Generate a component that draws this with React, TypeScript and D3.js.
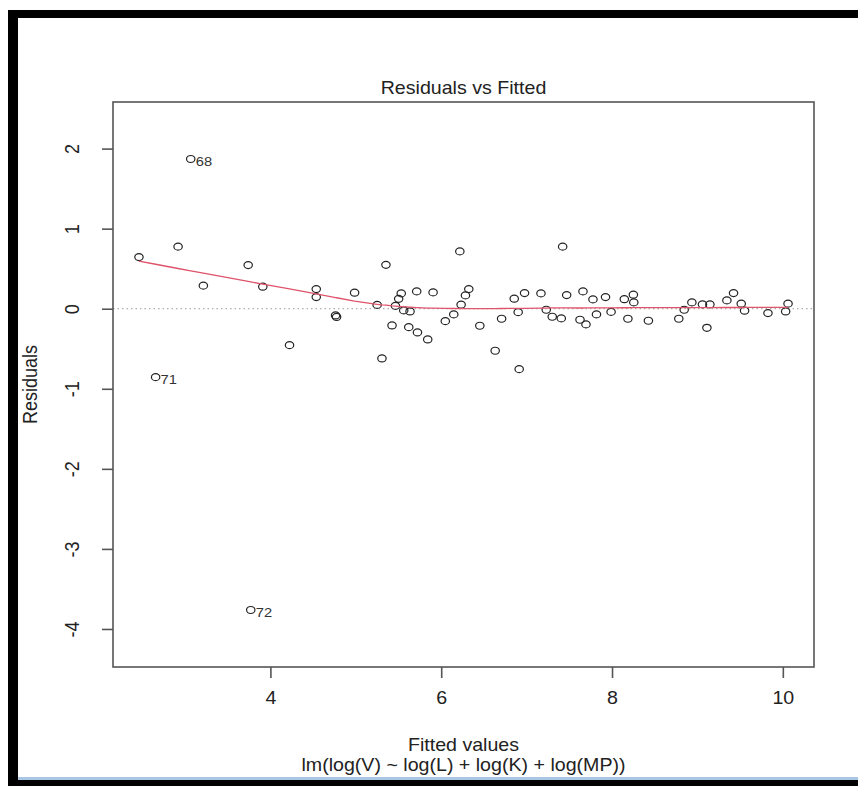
import * as d3 from 'd3';
import { useEffect, useRef } from 'react';

// fitted values and residuals, observation order (ids 68, 71, 72 are the outliers)
const fittedValues = [
  2.461, 2.919, 3.215, 3.74, 3.911, 4.224, 4.537, 4.537, 4.763, 4.775,
  4.986, 5.25, 5.306, 5.353, 5.424, 5.464, 5.502, 5.532, 5.561, 5.635,
  5.62, 5.713, 5.722, 5.842, 5.905, 6.048, 6.147, 6.218, 6.233, 6.284,
  6.323, 6.452, 6.632, 6.707, 6.855, 6.901, 6.913, 6.976, 7.168, 7.23,
  7.3, 7.406, 7.422, 7.469, 7.625, 7.66, 7.695, 7.777, 7.818, 7.924,
  7.989, 8.144, 8.186, 8.25, 8.255, 8.426, 8.782, 8.845, 8.935, 9.059,
  9.111, 9.146, 9.345, 9.423, 9.513, 9.552, 9.826, 3.067, 10.033, 10.061,
  2.656, 3.77,
];
const residualValues = [
  0.645, 0.775, 0.288, 0.545, 0.275, -0.455, 0.245, 0.145, -0.084, -0.103,
  0.2, 0.048, -0.621, 0.548, -0.209, 0.035, 0.123, 0.191, -0.021, -0.034,
  -0.23, 0.216, -0.296, -0.384, 0.204, -0.155, -0.071, 0.716, 0.05, 0.166,
  0.245, -0.213, -0.525, -0.125, 0.125, -0.043, -0.755, 0.195, 0.191, -0.013,
  -0.1, -0.121, 0.775, 0.17, -0.138, 0.216, -0.196, 0.116, -0.071, 0.145,
  -0.04, 0.119, -0.125, 0.175, 0.079, -0.15, -0.125, -0.013, 0.079, 0.054,
  -0.238, 0.054, 0.104, 0.195, 0.063, -0.025, -0.055, 1.87, -0.034, 0.063,
  -0.855, -3.763,
];
const xTicks = [4, 6, 8, 10];
const yTicks = [-4, -3, -2, -1, 0, 1, 2];
const title = 'Residuals vs Fitted';
const xTitle = 'Fitted values';
const subTitle = 'lm(log(V) ~ log(L) + log(K) + log(MP))';
const yTitle = 'Residuals';
const idCount = 3;

const W = 858;
const H = 786;
const box = { left: 113, right: 814, top: 102, bottom: 667 };
const font = '"Liberation Sans", Arial, sans-serif';
const stretch = 'scale(1.09,1)'; // the screenshot is a little wider than tall

// R's lowess (Cleveland), f = 2/3, 3 robustness iterations
function lowess(xs: number[], ys: number[], f = 2 / 3, iter = 3) {
  const order = d3.range(xs.length).sort((a, b) => xs[a] - xs[b]);
  const x = order.map(i => xs[i]);
  const y = order.map(i => ys[i]);
  const n = x.length;
  const ns = Math.max(2, Math.min(n, Math.floor(f * n + 1e-7)));
  const span = x[n - 1] - x[0];
  let rw = new Array(n).fill(1);
  const fit = new Array(n).fill(0);
  for (let it = 0; it <= iter; it++) {
    let nleft = 0;
    let nright = ns - 1;
    for (let i = 0; i < n; i++) {
      while (nright < n - 1 && x[i] - x[nleft] > x[nright + 1] - x[i]) {
        nleft++;
        nright++;
      }
      const h = Math.max(x[i] - x[nleft], x[nright] - x[i]);
      const w = new Array(n).fill(0);
      let sw = 0;
      for (let j = 0; j < n; j++) {
        const r = Math.abs(x[j] - x[i]);
        let wj = 0;
        if (r <= 0.999 * h) wj = r <= 0.001 * h ? 1 : Math.pow(1 - Math.pow(r / h, 3), 3);
        wj *= rw[j];
        w[j] = wj;
        sw += wj;
      }
      if (sw <= 0) {
        fit[i] = y[i];
        continue;
      }
      for (let j = 0; j < n; j++) w[j] /= sw;
      const a = d3.sum(w, (wj, j) => wj * x[j]);
      const b = d3.sum(w, (wj, j) => wj * (x[j] - a) ** 2);
      if (Math.sqrt(b) > 0.001 * span) {
        for (let j = 0; j < n; j++) w[j] *= 1 + ((x[i] - a) * (x[j] - a)) / b;
      }
      fit[i] = d3.sum(w, (wj, j) => wj * y[j]);
    }
    if (it === iter) break;
    const res = y.map((v, i) => Math.abs(v - fit[i]));
    const cmad = 6 * (d3.median(res) ?? 0);
    if (cmad <= 0) break;
    rw = res.map(r => (r < 0.001 * cmad ? 1 : r > 0.999 * cmad ? 0 : (1 - (r / cmad) ** 2) ** 2));
  }
  return x.map((xi, i) => [xi, fit[i]] as [number, number]);
}

// extendrange like R
const extend = (lo: number, hi: number, f: number) => [lo - f * (hi - lo), hi + f * (hi - lo)];

function App() {
  const svgRef = useRef<SVGSVGElement>(null);

  useEffect(() => {
    const svg = d3.select(svgRef.current);
    svg.selectAll('*').remove();

    const points = fittedValues.map((x, i) => ({ x, y: residualValues[i], id: i + 1 }));
    const [xMin, xMax] = d3.extent(fittedValues) as [number, number];
    const [rMin, rMax] = d3.extent(residualValues) as [number, number];
    const yLim = extend(rMin, rMax, 0.08);

    const xScale = d3
      .scaleLinear()
      .domain(extend(xMin, xMax, 0.04))
      .range([box.left, box.right]);
    const yScale = d3
      .scaleLinear()
      .domain(extend(yLim[0], yLim[1], 0.04))
      .range([box.bottom, box.top]);

    // outer frame of the screenshot
    svg.append('rect').attr('width', W).attr('height', H).attr('fill', '#fff');
    svg.append('rect').attr('x', 8).attr('y', 10).attr('width', 10).attr('height', H - 10).attr('fill', '#000');
    svg.append('rect').attr('x', 8).attr('y', 10).attr('width', W - 8).attr('height', 8).attr('fill', '#000');
    svg.append('rect').attr('x', 8).attr('y', 780).attr('width', W - 8).attr('height', 6).attr('fill', '#000');
    svg.append('rect').attr('x', 18).attr('y', 777).attr('width', W - 18).attr('height', 3).attr('fill', '#a9c6e4');

    // zero reference
    svg
      .append('line')
      .attr('x1', box.left)
      .attr('x2', box.right)
      .attr('y1', yScale(0))
      .attr('y2', yScale(0))
      .attr('stroke', '#9a9a9a')
      .attr('stroke-width', 1)
      .attr('stroke-dasharray', '1.5,3');

    // points
    svg
      .append('g')
      .selectAll('ellipse')
      .data(points)
      .join('ellipse')
      .attr('cx', d => xScale(d.x))
      .attr('cy', d => yScale(d.y))
      .attr('rx', 4.2)
      .attr('ry', 3.5)
      .attr('fill', 'none')
      .attr('stroke', '#222')
      .attr('stroke-width', 1.2);

    // lowess smooth
    const smooth = lowess(fittedValues, residualValues);
    const line = d3
      .line<[number, number]>()
      .x(d => xScale(d[0]))
      .y(d => yScale(d[1]));
    svg
      .append('path')
      .attr('d', line(smooth))
      .attr('fill', 'none')
      .attr('stroke', '#DF536B')
      .attr('stroke-width', 1.3);

    // label the largest |residuals|
    const labelled = [...points].sort((a, b) => Math.abs(b.y) - Math.abs(a.y)).slice(0, idCount);
    svg
      .append('g')
      .selectAll('text')
      .data(labelled)
      .join('text')
      .attr('transform', d => `translate(${xScale(d.x) + 5},${yScale(d.y) + 7}) ${stretch}`)
      .attr('font-family', font)
      .attr('font-size', 13.5)
      .attr('fill', '#333')
      .text(d => d.id);

    // axes
    const xAxis = d3
      .axisBottom(xScale)
      .tickValues(xTicks)
      .tickFormat(d => String(d))
      .tickSize(11)
      .tickSizeOuter(0);
    const gx = svg.append('g').attr('transform', `translate(0,${box.bottom})`).call(xAxis);
    gx.select('.domain').remove();
    gx.selectAll('line').attr('stroke', '#555').attr('stroke-width', 1.6);
    gx.selectAll('text')
      .attr('y', null)
      .attr('dy', null)
      .attr('transform', `translate(0,37) ${stretch}`)
      .attr('font-family', font)
      .attr('font-size', 18)
      .attr('fill', '#222');

    const yAxis = d3
      .axisLeft(yScale)
      .tickValues(yTicks)
      .tickFormat(d => String(d))
      .tickSize(11)
      .tickSizeOuter(0);
    const gy = svg.append('g').attr('transform', `translate(${box.left},0)`).call(yAxis);
    gy.select('.domain').remove();
    gy.selectAll('line').attr('stroke', '#555').attr('stroke-width', 1.6);
    gy.selectAll('text')
      .attr('x', null)
      .attr('dy', null)
      .attr('text-anchor', 'middle')
      .attr('transform', `translate(-34,0) ${stretch} rotate(-90)`)
      .attr('font-family', font)
      .attr('font-size', 18)
      .attr('fill', '#222');

    // plot box
    svg
      .append('rect')
      .attr('x', box.left)
      .attr('y', box.top)
      .attr('width', box.right - box.left)
      .attr('height', box.bottom - box.top)
      .attr('fill', 'none')
      .attr('stroke', '#555')
      .attr('stroke-width', 1.6);

    // titles
    const txt = (s: string, x: number, y: number, rot = 0) =>
      svg
        .append('text')
        .attr('transform', `translate(${x},${y}) ${stretch} rotate(${rot})`)
        .attr('text-anchor', 'middle')
        .attr('font-family', font)
        .attr('font-size', 18)
        .attr('fill', '#222')
        .text(s);
    const cx = (box.left + box.right) / 2;
    txt(title, cx, 94);
    txt(xTitle, cx, 751);
    txt(subTitle, cx, 771);
    txt(yTitle, 37, (box.top + box.bottom) / 2, -90);
  }, []);

  return (
    <svg
      ref={svgRef}
      width={W}
      height={H}
      style={{ position: 'absolute', left: 0, top: 0, display: 'block' }}
    />
  );
}

export default App;
